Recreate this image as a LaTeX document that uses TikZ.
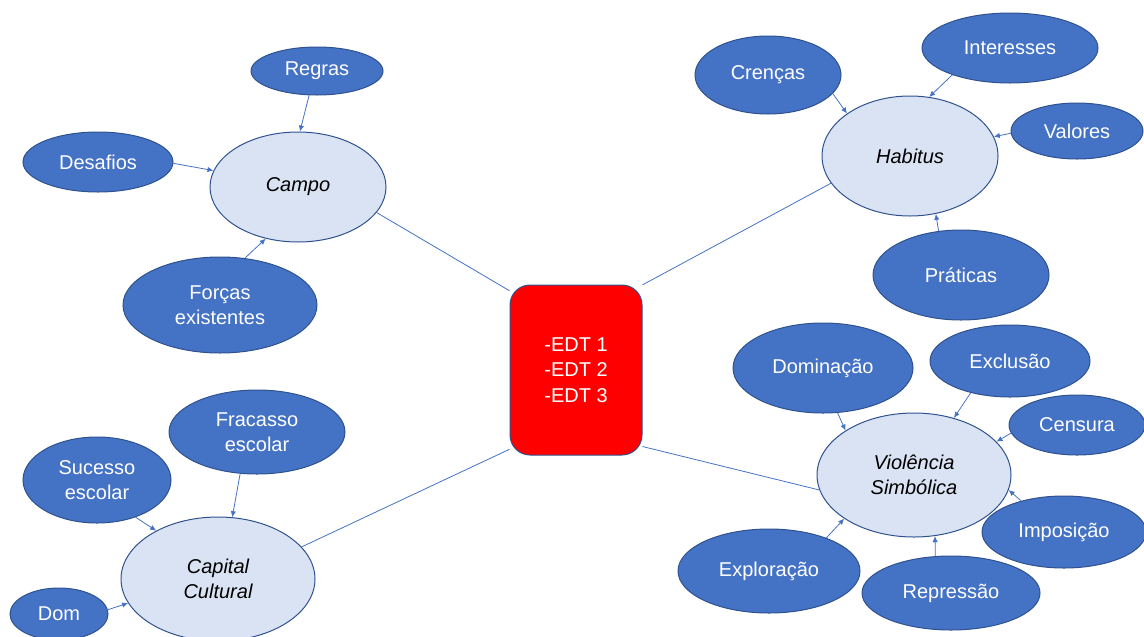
\documentclass[tikz,border=0pt]{standalone}
\usepackage{fontspec}
\setmainfont{Liberation Sans}
\usetikzlibrary{shapes.geometric,arrows.meta}
\definecolor{accent}{HTML}{4472C4}
\definecolor{rim}{HTML}{2F528F}
\definecolor{pale}{HTML}{DAE3F3}

\begin{document}
\begin{tikzpicture}[
  x=0.75pt,y=-0.75pt,
  font=\fontsize{15}{19}\selectfont,
  sz/.style 2 args={minimum width=#1*0.75pt,minimum height=#2*0.75pt},
  blob/.style={ellipse,draw=rim,line width=0.75pt,inner sep=0pt,align=center},
  concept/.style={blob,fill=pale,font=\fontsize{15}{19}\selectfont\itshape},
  idea/.style={blob,fill=accent,text=white},
  hub/.style={draw=rim,fill=red,text=white,line width=0.75pt,rounded corners=15pt,align=center,minimum width=99pt,minimum height=127.5pt},
  link/.style={accent,line width=0.6pt},
  arr/.style={-{Latex[length=4.5pt,width=4pt]},accent,line width=0.6pt},
]
\useasboundingbox (0,0) rectangle (1144,636);
\node[hub] (edt) at (576,370) {-EDT 1\\-EDT 2\\-EDT 3};
\node[concept,sz={176}{110}] (campo) at (298,187) {Campo};
\node[concept,sz={176}{120}] (habitus) at (910,156) {Habitus};
\node[concept,sz={194}{124}] (violencia) at (914,475) {Violência\\Simbólica};
\node[concept,sz={194}{124}] (capital) at (218,579) {Capital\\Cultural};
\node[idea,sz={132}{48}] (regras) at (317,71) {Regras};
\node[idea,sz={150}{60}] (desafios) at (98,162) {Desafios};
\node[idea,sz={194}{96}] (forcas) at (220,305) {Forças\\existentes};
\node[idea,sz={146}{78}] (crencas) at (768,75) {Crenças};
\node[idea,sz={176}{70}] (interesses) at (1010,48) {Interesses};
\node[idea,sz={132}{56}] (valores) at (1077,131) {Valores};
\node[idea,sz={176}{90}] (praticas) at (961,275) {Práticas};
\node[idea,sz={180}{90}] (dominacao) at (823,368) {Dominação};
\node[idea,sz={160}{72}] (exclusao) at (1010,361) {Exclusão};
\node[idea,sz={136}{60}] (censura) at (1077,425) {Censura};
\node[idea,sz={164}{72}] (imposicao) at (1064,532) {Imposição};
\node[idea,sz={178}{74}] (repressao) at (951,593) {Repressão};
\node[idea,sz={182}{84}] (exploracao) at (769,571) {Exploração};
\node[idea,sz={176}{84}] (fracasso) at (257,432) {Fracasso\\escolar};
\node[idea,sz={148}{86}] (sucesso) at (97,480) {Sucesso\\escolar};
\node[idea,sz={98}{52}] (dom) at (59,614) {Dom};
\draw[link] (campo.-18) -- (edt.130);
\draw[link] (habitus.199) -- (edt.52);
\draw[link] (violencia.189) -- (edt.-49);
\draw[link] (capital.21) -- (edt.230);
\draw[arr] (regras.252) -- (campo.88);
\draw[arr] (desafios.-1) -- (campo.169);
\draw[arr] (forcas.62) -- (campo.238);
\draw[arr] (crencas.-16) -- (habitus.146);
\draw[arr] (interesses.205) -- (habitus.72);
\draw[arr] (valores.182) -- (habitus.13);
\draw[arr] (praticas.117) -- (habitus.-66);
\draw[arr] (dominacao.-72) -- (violencia.147);
\draw[arr] (exclusao.219) -- (violencia.55);
\draw[arr] (censura.187) -- (violencia.22);
\draw[arr] (imposicao.144) -- (violencia.-9);
\draw[arr] (repressao.113) -- (violencia.-71);
\draw[arr] (exploracao.30) -- (violencia.212);
\draw[arr] (fracasso.248) -- (capital.77);
\draw[arr] (sucesso.-44) -- (capital.142);
\draw[arr] (dom.5) -- (capital.195);
\end{tikzpicture}
\end{document}
